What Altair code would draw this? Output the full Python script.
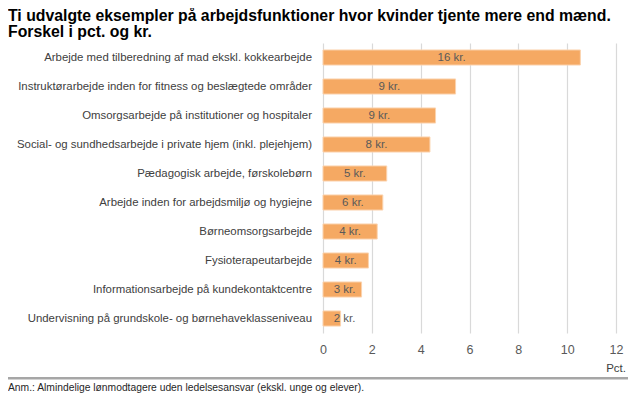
import altair as alt
import pandas as pd

categories = [
    "Arbejde med tilberedning af mad ekskl. kokkearbejde",
    "Instruktørarbejde inden for fitness og beslægtede områder",
    "Omsorgsarbejde på institutioner og hospitaler",
    "Social- og sundhedsarbejde i private hjem (inkl. plejehjem)",
    "Pædagogisk arbejde, førskolebørn",
    "Arbejde inden for arbejdsmiljø og hygiejne",
    "Børneomsorgsarbejde",
    "Fysioterapeutarbejde",
    "Informationsarbejde på kundekontaktcentre",
    "Undervisning på grundskole- og børnehaveklasseniveau",
]
values = [10.54, 5.43, 4.61, 4.38, 2.61, 2.45, 2.22, 1.86, 1.58, 0.72]
kr_labels = ["16 kr.", "9 kr.", "9 kr.", "8 kr.", "5 kr.", "6 kr.", "4 kr.", "4 kr.", "3 kr.", "2 kr."]
x_ticks = [0, 2, 4, 6, 8, 10, 12]

title_line1 = "Ti udvalgte eksempler på arbejdsfunktioner hvor kvinder tjente mere end mænd."
title_line2 = "Forskel i pct. og kr."
note = "Anm.: Almindelige lønmodtagere uden ledelsesansvar (ekskl. unge og elever)."
unit = "Pct."

df = pd.DataFrame({"cat": categories, "value": values, "lab": kr_labels})

FONT = "Liberation Sans"

base = alt.Chart(df)

bars = base.mark_bar(color="#F5A963", stroke="#FBD3AE", strokeWidth=1).encode(
    y=alt.Y("cat:N", sort=categories, title=None,
            scale=alt.Scale(paddingInner=0.48, paddingOuter=0.24),
            axis=alt.Axis(labelFont=FONT, labelFontSize=11.4, labelColor="#404040",
                          ticks=False, domain=False, labelPadding=11.5, labelLimit=320)),
    x=alt.X("value:Q", title=None,
            scale=alt.Scale(domain=[0, 12], nice=False),
            axis=alt.Axis(values=x_ticks, labelFont=FONT, labelFontSize=12.5,
                          labelColor="#595959", ticks=False, domain=False, labelFlush=False,
                          grid=True, gridColor="#D9D9D9", gridWidth=1.2, labelPadding=10)),
)

texts = base.transform_calculate(
    pos="max(datum.value / 2, 0.88)"
).mark_text(font=FONT, fontSize=11.5, color="#595959", baseline="middle").encode(
    y=alt.Y("cat:N", sort=categories),
    x=alt.X("pos:Q"),
    text="lab:N",
)

one = alt.Data(values=[{}])

t1 = alt.Chart(one).mark_text(font=FONT, fontSize=15.8, fontWeight="bold", color="#000000",
                              align="left", baseline="alphabetic").encode(
    x=alt.value(-315), y=alt.value(-22.5), text=alt.value(title_line1))

t2 = alt.Chart(one).mark_text(font=FONT, fontSize=15.8, fontWeight="bold", color="#000000",
                              align="left", baseline="alphabetic").encode(
    x=alt.value(-315), y=alt.value(-6.5), text=alt.value(title_line2))

pct = alt.Chart(one).mark_text(font=FONT, fontSize=11.5, color="#404040", align="right",
                               baseline="alphabetic").encode(
    x=alt.value(303), y=alt.value(328.5), text=alt.value(unit))

line = alt.Chart(one).mark_rule(color="#A6A6A6", strokeWidth=2.5).encode(
    x=alt.value(-323), x2=alt.value(313), y=alt.value(335.3))

foot = alt.Chart(one).mark_text(font=FONT, fontSize=10.3, color="#262626", align="left",
                                baseline="alphabetic").encode(
    x=alt.value(-315), y=alt.value(348), text=alt.value(note))

chart = alt.layer(bars, texts, t1, t2, pct, line, foot).properties(
    width=293,
    height=290,
    padding={"left": 315, "top": 35, "right": 12, "bottom": 61},
    autosize=alt.AutoSizeParams(type="none"),
).configure_view(stroke=None)

chart.save("out.html", embed_options={"renderer": "svg", "actions": False})
